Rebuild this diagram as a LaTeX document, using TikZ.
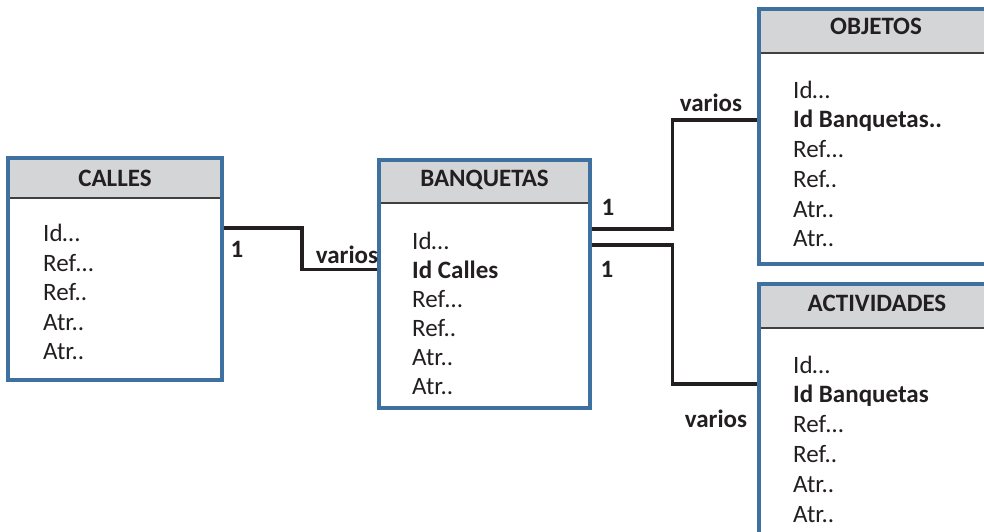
\documentclass[tikz,border=0pt]{standalone}
\usepackage{fontspec}
\setmainfont{Carlito}
\usetikzlibrary{fit}
\definecolor{boxblue}{RGB}{62,112,160}
\definecolor{hdrgray}{RGB}{212,213,215}
\definecolor{txt}{RGB}{35,31,32}
\tikzset{
  tbl/.style={draw=boxblue, line width=3.4pt, inner sep=0pt, fill=none},
  hdrline/.style={draw=black!75, line width=1.3pt},
  item/.style={anchor=base west, inner sep=0pt, text=txt, font=\fontsize{25}{29}\selectfont},
  bitem/.style={item, font=\fontsize{25}{29}\selectfont\bfseries},
  ttl/.style={anchor=base, inner sep=0pt, text=txt, font=\fontsize{25}{29}\selectfont\bfseries},
  lbl/.style={anchor=base, inner sep=0pt, text=txt, font=\fontsize{25}{29}\selectfont\bfseries},
  conn/.style={draw=txt, line width=3.6pt}
}
\begin{document}
\begin{tikzpicture}[x=1pt,y=-1pt]
\useasboundingbox (0,0) rectangle (984,532);
\clip (0,0) rectangle (984,532);
% CALLES
\fill[hdrgray] (8,158) rectangle (222,198);
\draw[hdrline] (8,198) -- (222,198);
\node[tbl, fit={(8,158) (222,380)}] (calles) {};
\node[ttl] (callesT) at (115,186.7) {CALLES};
\node[item] (c1) at (43,241.7) {Id…};
\node[item] (c2) at (43,271.2) {Ref…};
\node[item] (c3) at (43,300.6) {Ref..};
\node[item] (c4) at (43,330) {Atr..};
\node[item] (c5) at (43,359.4) {Atr..};
% BANQUETAS
\fill[hdrgray] (379,160) rectangle (590,203);
\draw[hdrline] (379,203) -- (590,203);
\node[tbl, fit={(379,160) (590,408)}] (banq) {};
\node[ttl] (banqT) at (484.5,186) {BANQUETAS};
\node[item] (b1) at (412,249) {Id…};
\node[bitem] (b2) at (412,278) {Id Calles};
\node[item] (b3) at (412,307.2) {Ref…};
\node[item] (b4) at (412,336.4) {Ref..};
\node[item] (b5) at (412,365.6) {Atr..};
\node[item] (b6) at (412,394.8) {Atr..};
% OBJETOS
\fill[hdrgray] (759,9) rectangle (995,53);
\draw[hdrline] (759,53) -- (995,53);
\node[tbl, fit={(759,9) (995,264)}] (obj) {};
\node[ttl] (objT) at (876,35) {OBJETOS};
\node[item] (o1) at (793,98.3) {Id…};
\node[bitem] (o2) at (793,128) {Id Banquetas..};
\node[item] (o3) at (793,157.7) {Ref…};
\node[item] (o4) at (793,187.4) {Ref..};
\node[item] (o5) at (793,217.1) {Atr..};
\node[item] (o6) at (793,246.8) {Atr..};
% ACTIVIDADES
\fill[hdrgray] (759,284) rectangle (995,328);
\draw[hdrline] (759,328) -- (995,328);
\node[tbl, fit={(759,284) (995,545)}] (act) {};
\node[ttl] (actT) at (877,311.7) {ACTIVIDADES};
\node[item] (a1) at (793,373) {Id…};
\node[bitem] (a2) at (793,402.8) {Id Banquetas};
\node[item] (a3) at (793,432.6) {Ref…};
\node[item] (a4) at (793,462.4) {Ref..};
\node[item] (a5) at (793,492.2) {Atr..};
\node[item] (a6) at (793,522) {Atr..};
% connectors
\coordinate (k1) at (302,228);
\coordinate (k2) at (302,269.5);
\draw[conn] (calles.east |- k1) -- (k1) -- (k2) -- (banq.west |- k2);
\coordinate (m1) at (672.5,229);
\coordinate (m2) at (672.5,120);
\draw[conn] (banq.east |- m1) -- (m1) -- (m2) -- (obj.west |- m2);
\coordinate (n1) at (672.5,245);
\coordinate (n2) at (672.5,384);
\draw[conn] (banq.east |- n1) -- (n1) -- (n2) -- (act.west |- n2);
% labels
\node[lbl] (l1) at (237,257) {1};
\node[lbl] (l2) at (347,263) {varios};
\node[lbl] (l3) at (608,215) {1};
\node[lbl] (l4) at (607,277) {1};
\node[lbl] (l5) at (711,112) {varios};
\node[lbl] (l6) at (716,427) {varios};
\end{tikzpicture}
\end{document}
